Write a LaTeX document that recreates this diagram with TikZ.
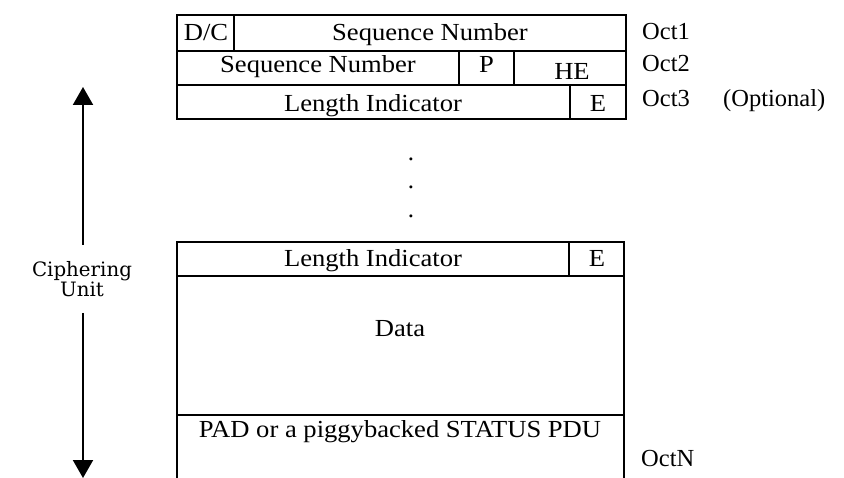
\documentclass[tikz,border=0pt]{standalone}
\usepackage{fontspec}
\setmainfont{Liberation Serif}
\newfontfamily\widefont[FakeStretch=1.085]{Liberation Serif}
\newfontfamily\cufont{DejaVu Serif}
\usetikzlibrary{arrows.meta}
\begin{document}
\begin{tikzpicture}[x=1pt,y=-1pt,
  field/.style={draw,line width=1.6pt},
  lbl/.style={font=\widefont\fontsize{24.5}{28}\selectfont,inner sep=0pt,anchor=base},
  olbl/.style={font=\fontsize{24.5}{28}\selectfont,inner sep=0pt,anchor=base west},
  dotlbl/.style={font=\fontsize{25}{28}\selectfont,inner sep=0pt,anchor=base},
  cu/.style={font=\cufont\fontsize{19.8}{20}\selectfont,inner sep=0pt,anchor=base},
  span/.style={line width=2pt,-{Triangle[width=20pt,length=18pt]}}]
\useasboundingbox (0,0) rectangle (844,478);
% top header rows
\draw[field] (177,15) rectangle (626,51);
\draw[field] (234,15) -- (234,51);
\draw[field] (177,51) rectangle (626,85);
\draw[field] (459,51) -- (459,85);
\draw[field] (514,51) -- (514,85);
\draw[field] (177,85) rectangle (626,119);
\draw[field] (570,85) -- (570,119);
\node[lbl] (dc) at (206,41) {D/C};
\node[lbl] (sn1) at (430,41) {Sequence Number};
\node[lbl] (sn2) at (318,73) {Sequence Number};
\node[lbl] (p) at (486.5,73) {P};
\node[lbl] (he) at (572,80) {HE};
\node[lbl] (li1) at (373,112) {Length Indicator};
\node[lbl] (e1) at (598,112) {E};
\node[olbl] (o1) at (642,40) {Oct1};
\node[olbl] (o2) at (642,72) {Oct2};
\node[olbl] (o3) at (642,107) {Oct3};
\node[olbl] (opt) at (723,107) {(Optional)};
% dots
\node[dotlbl] (d1) at (411,161) {.};
\node[dotlbl] (d2) at (411,189) {.};
\node[dotlbl] (d3) at (411,218) {.};
% bottom block
\draw[field] (177,478) -- (177,242) -- (624,242) -- (624,478);
\draw[field] (177,276) -- (624,276);
\draw[field] (569,242) -- (569,276);
\draw[field] (177,415) -- (624,415);
\node[lbl] (li2) at (373,267) {Length Indicator};
\node[lbl] (e2) at (597,267) {E};
\node[lbl] (data) at (400,337) {Data};
\node[lbl] (pad) at (400,438) {PAD or a piggybacked STATUS PDU};
\node[olbl] (on) at (641,466) {OctN};
% ciphering unit arrow
\node[cu] (cu1) at (82,277) {Ciphering};
\node[cu] (cu2) at (82,297) {Unit};
\coordinate (ctop) at (83,87);
\coordinate (cbot) at (83,478);
\coordinate (cstart) at (83,245);
\coordinate (cend) at (83,313);
\draw[span] (cstart) -- (ctop);
\draw[span] (cend) -- (cbot);
\end{tikzpicture}
\end{document}
